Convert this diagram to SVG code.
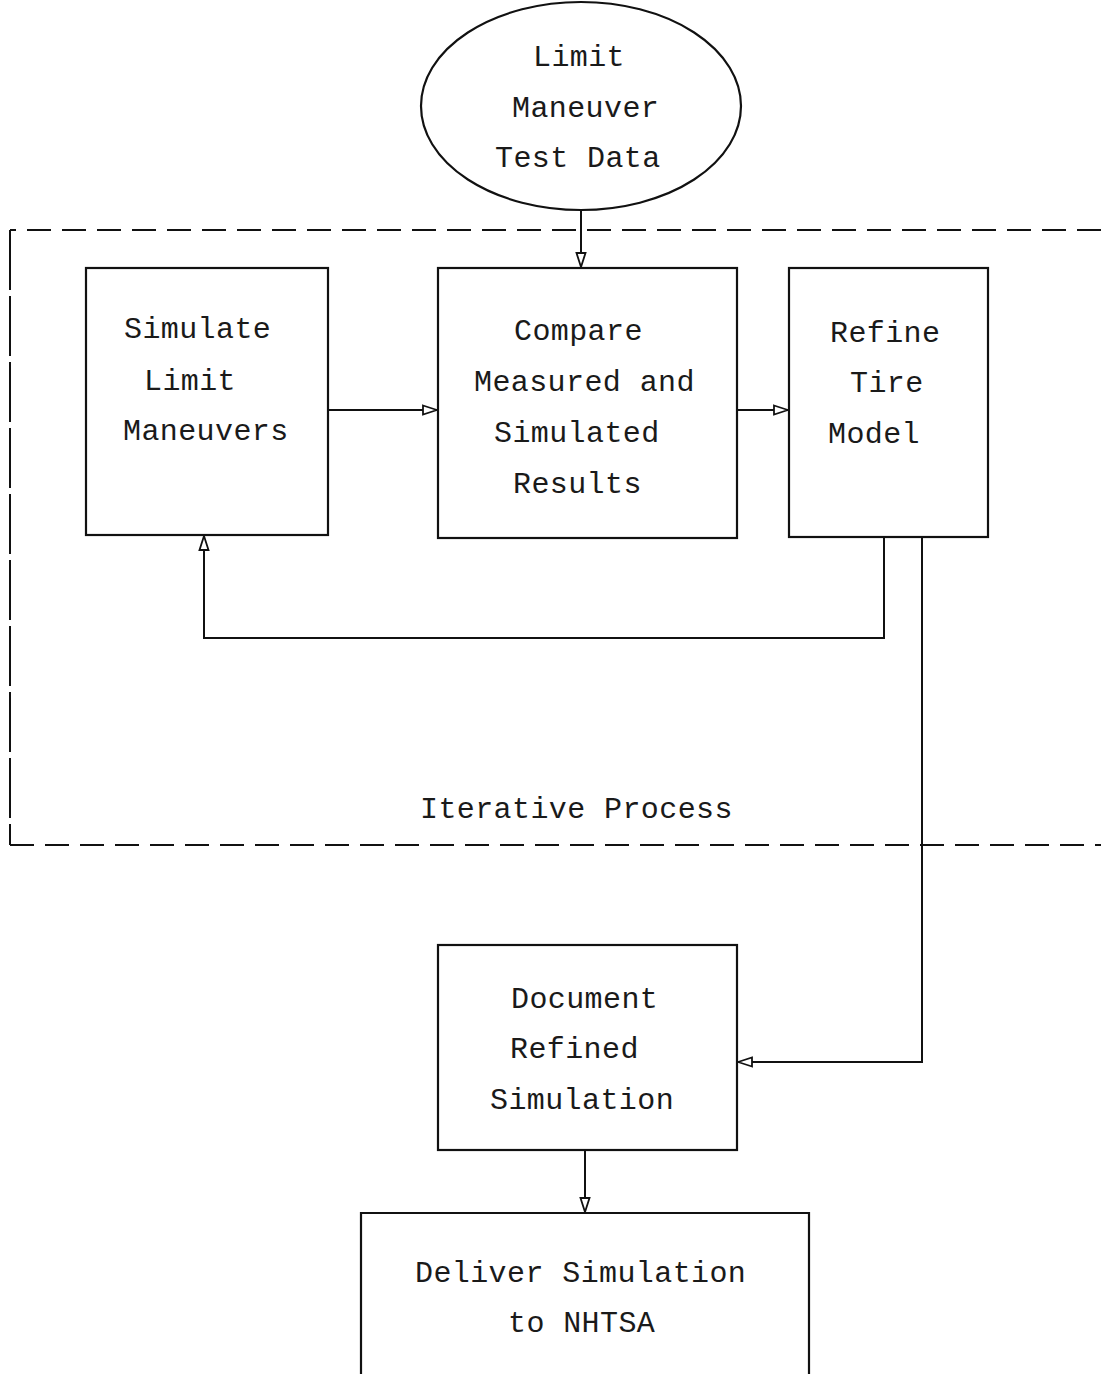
<svg xmlns="http://www.w3.org/2000/svg" width="1101" height="1374" viewBox="0 0 1101 1374">
<style>
.box{fill:none;stroke:#111;stroke-width:2.2}
.ln{fill:none;stroke:#111;stroke-width:2}
.t{font-family:"Liberation Mono",monospace;font-size:30px;letter-spacing:0.4px;fill:#1a1a1a}
.dash{fill:none;stroke:#111;stroke-width:2;stroke-dasharray:24 11}
.dashv{fill:none;stroke:#111;stroke-width:2;stroke-dasharray:60 6}
</style>
<defs>
<marker id="ah" viewBox="0 0 16 12" refX="15" refY="6" markerWidth="16" markerHeight="12" markerUnits="userSpaceOnUse" orient="auto">
<path d="M1,1.5 L15,6 L1,10.5 Z" fill="#fff" stroke="#111" stroke-width="1.8"/>
</marker>
</defs>
<rect width="1101" height="1374" fill="#fff"/>
<g id="frame">
<path class="dash" d="M1101,230 L10,230"/>
<path class="dashv" d="M10,230 L10,845"/>
<path class="dash" d="M10,845 L1101,845"/>
<text class="t" x="420" y="818">Iterative Process</text>
</g>
<g id="n_testdata">
<ellipse class="box" cx="581" cy="106" rx="160" ry="104"/>
<text class="t" x="533" y="66">Limit</text>
<text class="t" x="512" y="117">Maneuver</text>
<text class="t" x="495" y="167">Test Data</text>
</g>
<g id="n_simulate">
<rect class="box" x="86" y="268" width="242" height="267"/>
<text class="t" x="124" y="338">Simulate</text>
<text class="t" x="144" y="390">Limit</text>
<text class="t" x="123" y="440">Maneuvers</text>
</g>
<g id="n_compare">
<rect class="box" x="438" y="268" width="299" height="270"/>
<text class="t" x="514" y="340">Compare</text>
<text class="t" x="474" y="391">Measured and</text>
<text class="t" x="494" y="442">Simulated</text>
<text class="t" x="513" y="493">Results</text>
</g>
<g id="n_refine">
<rect class="box" x="789" y="268" width="199" height="269"/>
<text class="t" x="830" y="342">Refine</text>
<text class="t" x="850" y="392">Tire</text>
<text class="t" x="828" y="443">Model</text>
</g>
<g id="n_document">
<rect class="box" x="438" y="945" width="299" height="205"/>
<text class="t" x="511" y="1008">Document</text>
<text class="t" x="510" y="1058">Refined</text>
<text class="t" x="490" y="1109">Simulation</text>
</g>
<g id="n_deliver">
<path class="box" d="M361,1380 L361,1213 L809,1213 L809,1380"/>
<text class="t" x="415" y="1282">Deliver Simulation</text>
<text class="t" x="508" y="1332">to NHTSA</text>
</g>
<g id="connectors">
<path class="ln" d="M581,210 L581,267" marker-end="url(#ah)"/>
<path class="ln" d="M328,410 L437,410" marker-end="url(#ah)"/>
<path class="ln" d="M737,410 L788,410" marker-end="url(#ah)"/>
<path class="ln" d="M884,537 L884,638 L204,638 L204,536" marker-end="url(#ah)"/>
<path class="ln" d="M922,537 L922,1062 L738,1062" marker-end="url(#ah)"/>
<path class="ln" d="M585,1150 L585,1212" marker-end="url(#ah)"/>
</g>
</svg>
